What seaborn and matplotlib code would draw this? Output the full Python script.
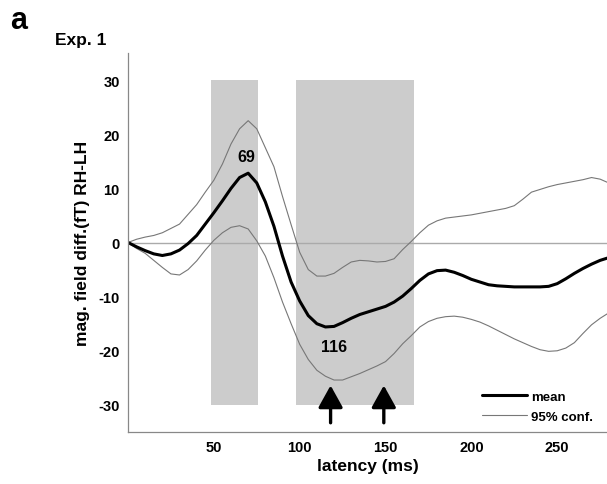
import matplotlib
matplotlib.use('Agg')
import matplotlib.pyplot as plt
import seaborn as sns
import pandas as pd
from matplotlib.lines import Line2D

# latency grid (ms) and curves
latency = list(range(0, 285, 5))
mean_diff = [0, -0.8, -1.5, -2.1, -2.4, -2.1, -1.4, -0.2, 1.3, 3.4,
             5.5, 7.7, 10, 12, 12.8, 11, 7.5, 3, -2.5, -7.3,
             -10.8, -13.5, -15, -15.6, -15.5, -14.8, -14, -13.3, -12.8, -12.3,
             -11.8, -11, -9.9, -8.5, -7, -5.8, -5.2, -5.1, -5.5, -6.1,
             -6.8, -7.3, -7.8, -8, -8.1, -8.2, -8.2, -8.2, -8.2, -8.1,
             -7.6, -6.7, -5.7, -4.8, -4, -3.3, -2.8]
upper_ci = [0, 0.6, 1, 1.3, 1.8, 2.6, 3.4, 5.2, 7, 9.3,
            11.5, 14.5, 18.2, 21, 22.5, 21, 17.5, 14, 8.5, 3.3,
            -1.8, -5, -6.2, -6.2, -5.7, -4.6, -3.6, -3.3, -3.4, -3.6,
            -3.5, -3, -1.3, 0.2, 1.8, 3.2, 4, 4.5, 4.7, 4.9,
            5.1, 5.4, 5.7, 6, 6.3, 6.8, 8, 9.3, 9.8, 10.3,
            10.7, 11, 11.3, 11.6, 12, 11.7, 11]
lower_ci = [0, -1.1, -2, -3.3, -4.6, -5.8, -6, -5, -3.4, -1.4,
            0.4, 1.8, 2.8, 3.1, 2.5, 0.3, -2.5, -6.5, -11, -15,
            -18.8, -21.6, -23.6, -24.7, -25.4, -25.4, -24.8, -24.2, -23.5, -22.8,
            -22, -20.5, -18.7, -17.2, -15.6, -14.6, -14, -13.7, -13.6, -13.8,
            -14.2, -14.7, -15.4, -16.2, -17, -17.8, -18.5, -19.2, -19.8, -20.1,
            -20, -19.5, -18.5, -16.8, -15.2, -14, -13]

windows = [(48.5, 76), (97.7, 166.7)]   # shaded analysis windows (ms)
window_range = (-30, 30)
arrow_times = [118, 149]
peak_labels = [("69", 69, 15.8), ("116", 120, -19.3)]

df = pd.DataFrame({"latency": latency, "mean": mean_diff,
                   "upper": upper_ci, "lower": lower_ci})

sns.set_style("white")
plt.rcParams['font.family'] = ['Liberation Sans', 'DejaVu Sans']
plt.rcParams['font.weight'] = 'bold'
plt.rcParams['text.color'] = 'black'
plt.rcParams['axes.labelcolor'] = 'black'
plt.rcParams['xtick.labelcolor'] = 'black'
plt.rcParams['ytick.labelcolor'] = 'black'
plt.rcParams['axes.unicode_minus'] = False

fig = plt.figure(figsize=(6.07, 4.85), dpi=100)
ax = fig.add_axes([128 / 607, 1 - 433 / 485, 1 - 128 / 607, (433 - 54) / 485])

for a, b in windows:
    ax.fill_between([a, b], window_range[0], window_range[1],
                    color='#cccccc', linewidth=0, zorder=0)
ax.axhline(0, color='#aaaaaa', lw=1, zorder=1)

sns.lineplot(data=df, x="latency", y="upper", color='#777777', lw=0.8, ax=ax)
sns.lineplot(data=df, x="latency", y="lower", color='#777777', lw=0.8, ax=ax)
sns.lineplot(data=df, x="latency", y="mean", color='black', lw=2.2, ax=ax)

for t in arrow_times:
    ax.annotate('', xy=(t, -26.4), xytext=(t, -33.3),
                arrowprops=dict(arrowstyle='-|>,head_width=0.75,head_length=1.35',
                                color='black', lw=2.4, shrinkA=0, shrinkB=0))

for txt, x, y in peak_labels:
    ax.text(x, y, txt, ha='center', va='center', fontsize=11.5, fontweight='bold')

ax.set_xlim(0, 279)
ax.set_ylim(-35, 35)
ax.set_xticks([50, 100, 150, 200, 250])
ax.set_yticks([-30, -20, -10, 0, 10, 20, 30])
ax.tick_params(direction='in', length=4, width=0.8, color='#888888',
               labelsize=10.5, pad=6)
for lab in ax.get_xticklabels() + ax.get_yticklabels():
    lab.set_fontweight('bold')
for s in ['top', 'right']:
    ax.spines[s].set_visible(False)
for s in ['left', 'bottom']:
    ax.spines[s].set_color('#888888')
    ax.spines[s].set_linewidth(0.9)

ax.set_xlabel("latency (ms)", fontsize=12.5, fontweight='bold', labelpad=3)
ax.set_ylabel("mag. field diff.(fT) RH-LH", fontsize=12.5, fontweight='bold', labelpad=6)

handles = [Line2D([], [], color='black', lw=2.2),
           Line2D([], [], color='#777777', lw=0.8)]
ax.legend(handles, ["mean", "95% conf."], loc='lower right', frameon=False,
          handlelength=3.4, handletextpad=0.3, labelspacing=0.6,
          bbox_to_anchor=(0.99, 0.0), borderaxespad=0.3,
          prop={'weight': 'bold', 'size': 9.5})

fig.text(10 / 607, 1 - 29 / 485, "a", fontsize=22, fontweight='bold')
fig.text(55 / 607, 1 - 45 / 485, "Exp. 1", fontsize=12.5, fontweight='bold')

fig.savefig("out.png", dpi=100)
